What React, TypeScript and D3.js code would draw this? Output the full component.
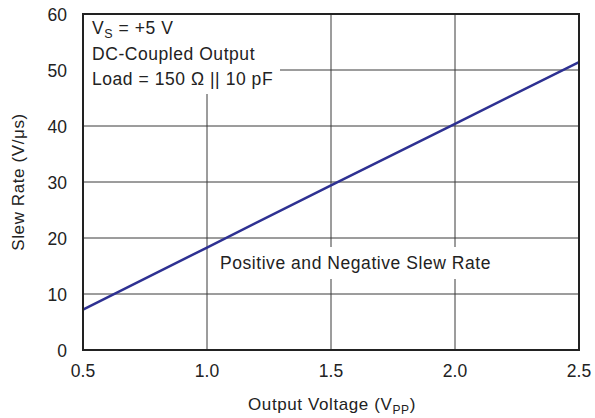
import React from "react";
import * as d3 from "d3";

const xTicks = [0.5, 1.0, 1.5, 2.0, 2.5];
const yTicks = [0, 10, 20, 30, 40, 50, 60];
const outputVoltage = [0.5, 1.0, 1.5, 2.0, 2.5];
const slewRate = [7.2, 18.3, 29.4, 40.4, 51.4];

const W = 595, H = 418;
const M = { left: 83, right: 579, top: 14, bottom: 350 };
const font = "Liberation Sans, Arial, Helvetica, sans-serif";

export default function App() {
  const x = d3.scaleLinear().domain([0.5, 2.5]).range([M.left, M.right]);
  const y = d3.scaleLinear().domain([0, 60]).range([M.bottom, M.top]);
  const line = d3.line<number>().x((_, i) => x(outputVoltage[i])).y((d) => y(d));
  const gridColor = "#3a3a3a";
  return (
    <svg width={W} height={H} style={{ position: "absolute", left: 0, top: 0 }} fontFamily={font}>
      <rect x={0} y={0} width={W} height={H} fill="#fff" />
      {yTicks.slice(1, -1).map((t) => (
        <line key={"gy" + t} x1={M.left} x2={M.right} y1={y(t)} y2={y(t)} stroke={gridColor} strokeWidth={1} />
      ))}
      {xTicks.slice(1, -1).map((t) => (
        <line key={"gx" + t} x1={x(t)} x2={x(t)} y1={M.top} y2={M.bottom} stroke={gridColor} strokeWidth={1} />
      ))}
      <rect x={M.left} y={M.top} width={197} height={80} fill="#fff" />
      <rect x={214} y={247} width={282} height={32} fill="#fff" />
      <path d={line(slewRate) || ""} fill="none" stroke="#2e3192" strokeWidth={2.5} />
      <rect x={M.left} y={M.top} width={M.right - M.left} height={M.bottom - M.top} fill="none" stroke="#222" strokeWidth={2} />
      <g fontSize={17.5} fill="#222">
        <g letterSpacing={0.55}>
          <text x={92} y={34}>
            V<tspan fontSize={12.5} dy={4}>S</tspan><tspan dy={-4}> = +5 V</tspan>
          </text>
          <text x={92} y={60}>DC-Coupled Output</text>
          <text x={92} y={85}>Load = 150 Ω || 10 pF</text>
          <text x={220} y={269}>Positive and Negative Slew Rate</text>
        </g>
        {yTicks.map((t) => (
          <text key={"yt" + t} x={67} y={y(t) + 6.5} textAnchor="end">{t}</text>
        ))}
        {xTicks.map((t) => (
          <text key={"xt" + t} x={x(t)} y={377} textAnchor="middle">{t.toFixed(1)}</text>
        ))}
        <text x={332} y={410} textAnchor="middle" fontSize={17} letterSpacing={0.6}>
          Output Voltage (V<tspan fontSize={12} dy={4}>PP</tspan><tspan dy={-4}>)</tspan>
        </text>
        <text transform={`translate(24, ${(M.top + M.bottom) / 2}) rotate(-90)`} textAnchor="middle" fontSize={17} letterSpacing={0.6}>
          Slew Rate (V/μs)
        </text>
      </g>
    </svg>
  );
}
